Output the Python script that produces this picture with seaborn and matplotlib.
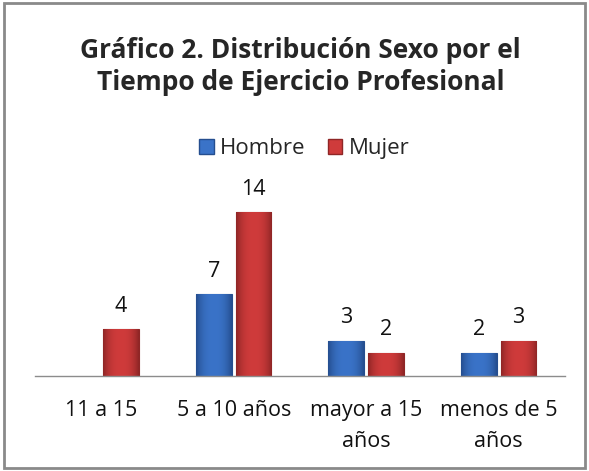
import matplotlib
matplotlib.use("Agg")
import matplotlib.pyplot as plt
import matplotlib.colors as mcolors
import seaborn as sns
import numpy as np
import pandas as pd
from matplotlib.patches import Rectangle

# Chart data
categories = ["11 a 15", "5 a 10 años", "mayor a 15\naños", "menos de 5\naños"]
hombre = [None, 7, 3, 2]
mujer = [4, 14, 2, 3]
series = ["Hombre", "Mujer"]
colors = {"Hombre": "#3A73C8", "Mujer": "#CF3B3B"}
dark = {"Hombre": "#254E8F", "Mujer": "#8F2626"}

rows = []
for cat, h, m in zip(categories, hombre, mujer):
    if h is not None:
        rows.append({"cat": cat, "sexo": "Hombre", "n": h})
    rows.append({"cat": cat, "sexo": "Mujer", "n": m})
df = pd.DataFrame(rows)

sns.set_style("white")
plt.rcParams["font.family"] = ["Open Sans", "DejaVu Sans"]

fig = plt.figure(figsize=(5.89, 4.71), dpi=100)
ax = fig.add_axes([0.0594, 0.2017, 0.8998, 0.397])

sns.barplot(data=df, x="cat", y="n", hue="sexo", order=categories,
            hue_order=series, palette=colors, width=0.6, gap=0.1,
            ax=ax, legend=False)


def shade(name):
    # horizontal gradient: dark edges, base colour in the middle
    c0 = np.array(mcolors.to_rgb(dark[name]))
    c1 = np.array(mcolors.to_rgb(colors[name]))
    t = np.abs(np.linspace(-1, 1, 64)) ** 2.5
    g = c1[None, :] * (1 - t[:, None]) + c0[None, :] * t[:, None]
    return g[None, :, :]


for cont, name in zip(ax.containers, series):
    for bar in cont:
        x0, y0 = bar.get_x(), bar.get_y()
        w, h = bar.get_width(), bar.get_height()
        im = ax.imshow(shade(name), extent=[x0, x0 + w, y0, y0 + h],
                       aspect="auto", zorder=bar.get_zorder() + 0.1,
                       interpolation="bilinear")
        im.set_clip_path(bar)
        bar.set_edgecolor(dark[name])
        bar.set_linewidth(0.8)
    ax.bar_label(cont, fmt="%g", padding=9, fontsize=15.5, color="#111111")

ax.set_ylim(0, 16)
ax.set_xlim(-0.5, 3.5)
ax.set_xlabel("")
ax.set_ylabel("")
ax.set_yticks([])
for s in ["left", "right", "top"]:
    ax.spines[s].set_visible(False)
ax.spines["bottom"].set_color("#8C8C8C")
ax.spines["bottom"].set_linewidth(1)
ax.spines["bottom"].set_zorder(5)
ax.tick_params(axis="x", length=0, pad=17, labelsize=15.5, colors="#111111")
for lab in ax.get_xticklabels():
    lab.set_linespacing(1.65)

fig.text(0.51, 1 - 58 / 471, "Gráfico 2. Distribución Sexo por el",
         ha="center", va="baseline", fontsize=19, fontweight="bold")
fig.text(0.51, 1 - 90 / 471, "Tiempo de Ejercicio Profesional",
         ha="center", va="baseline", fontsize=19, fontweight="bold")

handles = [Rectangle((0, 0), 1, 1, facecolor=colors[s], edgecolor=dark[s])
           for s in series]
fig.legend(handles, series, loc="center", bbox_to_anchor=(0.517, 0.684),
           ncol=2, frameon=False, fontsize=16, handlelength=0.65,
           handleheight=0.65, handletextpad=0.3, columnspacing=1.0)

fig.patches.append(Rectangle((0.0068, 0.006), 0.986, 0.988,
                             transform=fig.transFigure, fill=False,
                             edgecolor="#8A8A8A", linewidth=2))

fig.savefig("out.png", dpi=100)
